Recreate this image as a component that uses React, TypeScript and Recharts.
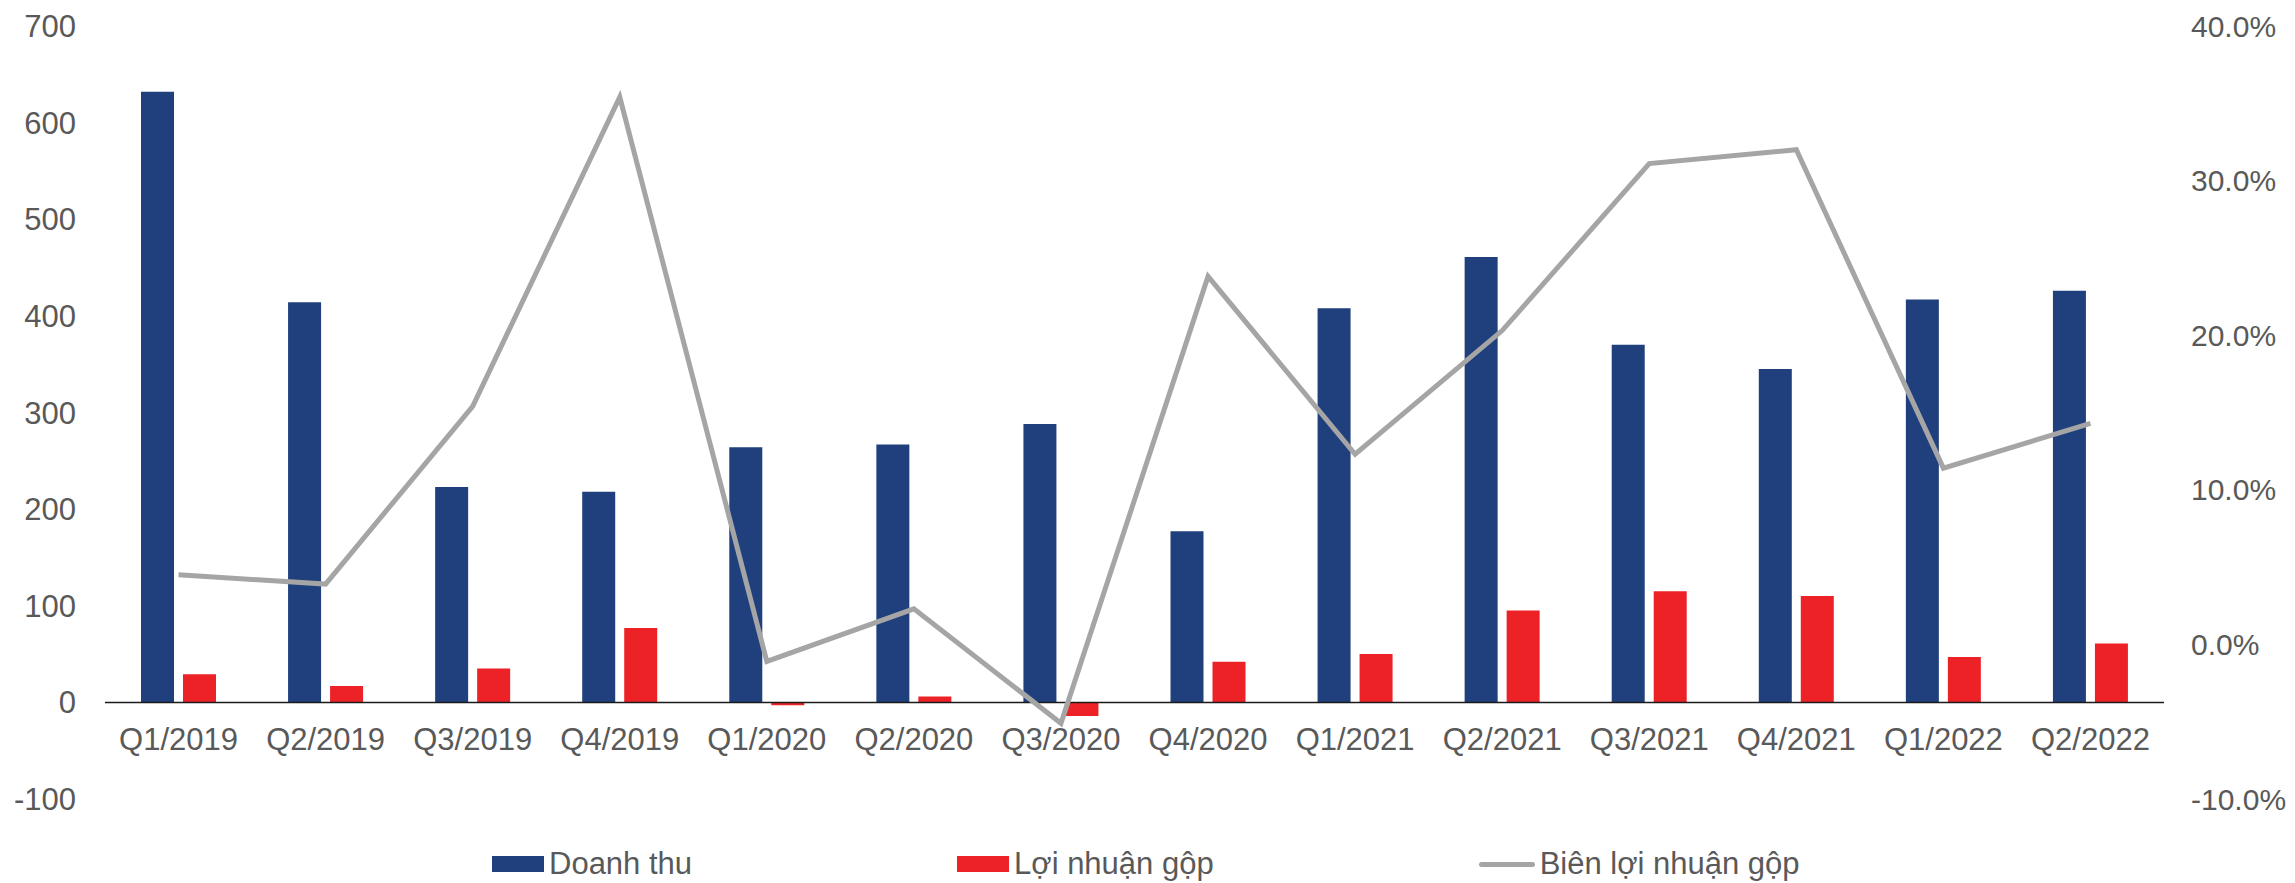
import { Bar, ComposedChart, Legend, Line, ReferenceLine, XAxis, YAxis } from "recharts"

const CHART_W = 2279
const CHART_H = 875
const MARGIN_TOP = 18
const XAXIS_H = 84
const PLOT_H = CHART_H - MARGIN_TOP - XAXIS_H

const FONT = "'Liberation Sans', Arial, sans-serif"
const TEXT = "#595959"

const COLORS = {
    revenue: "#1f3f7d",
    profit: "#ed2227",
    margin: "#a5a5a5",
}

const categories = [
    "Q1/2019", "Q2/2019", "Q3/2019", "Q4/2019",
    "Q1/2020", "Q2/2020", "Q3/2020", "Q4/2020",
    "Q1/2021", "Q2/2021", "Q3/2021", "Q4/2021",
    "Q1/2022", "Q2/2022",
]
const revenue = [632, 414, 223, 218, 264, 267, 288, 177, 408, 461, 370, 345, 417, 426]
const grossProfit = [29, 17, 35, 77, -3, 6, -14, 42, 50, 95, 115, 110, 47, 61]
const grossMargin = [4.5, 3.9, 15.4, 35.4, -1.1, 2.3, -5.1, 23.8, 12.3, 20.3, 31.1, 32.0, 11.4, 14.3]

const leftTicks = [-100, 0, 100, 200, 300, 400, 500, 600, 700]
const rightTicks = [-10, 0, 10, 20, 30, 40]

const seriesNames = ["Doanh thu", "Lợi nhuận gộp", "Biên lợi nhuận gộp"]

const LEFT_MIN = leftTicks[0]
const LEFT_MAX = leftTicks[leftTicks.length - 1]
// category labels sit under the zero line, not under the bottom of the plot
const ZERO_OFFSET = (PLOT_H * (0 - LEFT_MIN)) / (LEFT_MAX - LEFT_MIN)

const data = categories.map((name, i) => ({
    name,
    revenue: revenue[i],
    profit: grossProfit[i],
    margin: grossMargin[i],
}))

function CategoryTick({ x, y, payload }: any) {
    return (
        <text x={x} y={y - ZERO_OFFSET} dy="0.71em" textAnchor="middle" fill={TEXT} fontSize={31} fontFamily={FONT}>
            {payload.value}
        </text>
    )
}

function Swatch({ type, color }: { type: string; color: string }) {
    if (type === "line") {
        return <span style={{ display: "inline-block", width: 56, height: 5, borderRadius: 3, background: color }} />
    }
    return <span style={{ display: "inline-block", width: 52, height: 16, background: color }} />
}

function ChartLegend({ payload }: any) {
    const items = [...(payload ?? [])].sort(
        (a: any, b: any) => seriesNames.indexOf(a.value) - seriesNames.indexOf(b.value)
    )
    return (
        <div style={{ display: "flex", alignItems: "center", height: 36, paddingLeft: 484, gap: 265 }}>
            {items.map((entry: any) => (
                <div key={entry.value} style={{ display: "flex", alignItems: "center", gap: 5 }}>
                    <Swatch type={entry.type} color={entry.color} />
                    <span style={{ fontFamily: FONT, fontSize: 31, color: TEXT, lineHeight: "36px" }}>{entry.value}</span>
                </div>
            ))}
        </div>
    )
}

export default function App() {
    return (
        <ComposedChart
            width={CHART_W}
            height={CHART_H}
            data={data}
            margin={{ top: MARGIN_TOP, right: 0, bottom: 0, left: 0 }}
            barGap={9}
        >
            <XAxis
                dataKey="name"
                height={XAXIS_H}
                axisLine={false}
                tickLine={false}
                tickMargin={20}
                interval={0}
                tick={<CategoryTick />}
            />
            <YAxis
                yAxisId="left"
                width={97}
                domain={[LEFT_MIN, LEFT_MAX]}
                ticks={leftTicks}
                axisLine={false}
                tickLine={false}
                tickMargin={23}
                tick={{ fill: TEXT, fontSize: 31, fontFamily: FONT }}
                interval={0}
            />
            <YAxis
                yAxisId="right"
                orientation="right"
                width={123}
                domain={[rightTicks[0], rightTicks[rightTicks.length - 1]]}
                ticks={rightTicks}
                axisLine={false}
                tickLine={false}
                tickMargin={21}
                tick={{ fill: TEXT, fontSize: 30, fontFamily: FONT }}
                tickFormatter={(v) => `${Number(v).toFixed(1)}%`}
                interval={0}
            />
            <Legend
                layout="horizontal"
                verticalAlign="middle"
                align="center"
                wrapperStyle={{ top: 838, left: 0, width: CHART_W }}
                content={<ChartLegend />}
            />
            <Bar
                yAxisId="left"
                dataKey="revenue"
                name={seriesNames[0]}
                fill={COLORS.revenue}
                barSize={33}
                legendType="rect"
                isAnimationActive={false}
            />
            <Bar
                yAxisId="left"
                dataKey="profit"
                name={seriesNames[1]}
                fill={COLORS.profit}
                barSize={33}
                legendType="rect"
                isAnimationActive={false}
            />
            <ReferenceLine yAxisId="left" y={0} stroke="#1a1a1a" strokeWidth={1.5} />
            <Line
                yAxisId="right"
                dataKey="margin"
                name={seriesNames[2]}
                stroke={COLORS.margin}
                strokeWidth={5}
                dot={false}
                activeDot={false}
                legendType="line"
                isAnimationActive={false}
            />
        </ComposedChart>
    )
}
